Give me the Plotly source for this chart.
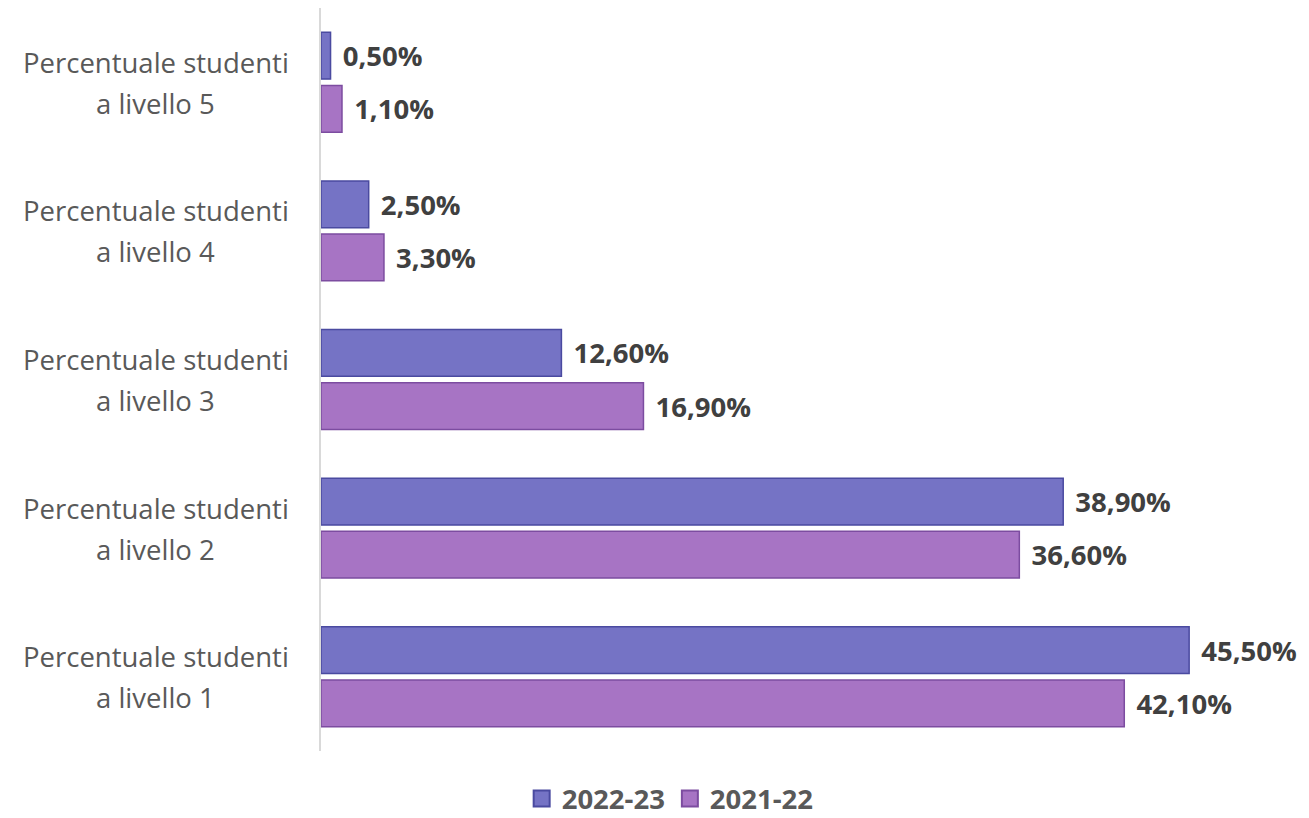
import plotly.graph_objects as go

categories = ["Percentuale studenti a livello 1", "Percentuale studenti a livello 2",
              "Percentuale studenti a livello 3", "Percentuale studenti a livello 4",
              "Percentuale studenti a livello 5"]
tick_line1 = ["Percentuale studenti"] * 5
tick_line2 = ["a livello 1", "a livello 2", "a livello 3", "a livello 4", "a livello 5"]
series_names = ["2022-23", "2021-22"]
values_2022_23 = [45.5, 38.9, 12.6, 2.5, 0.5]
values_2021_22 = [42.1, 36.6, 16.9, 3.3, 1.1]

colors = {"2022-23": ("#7573C5", "#4A4AA0"), "2021-22": ("#A774C4", "#7C4CA0")}

FONT = "Open Sans"
fig = go.Figure()
# Added first => drawn lower within each group
for name, vals in ((series_names[1], values_2021_22), (series_names[0], values_2022_23)):
    fill, edge = colors[name]
    fig.add_trace(go.Bar(
        y=categories, x=vals, name=name, orientation="h", showlegend=False,
        marker=dict(color=fill, line=dict(color=edge, width=1.5)),
        texttemplate="\u2009\u2009%{x:.2f}%", textposition="outside",
        textfont=dict(family=FONT, size=27.5, color="#404040", weight="bold"),
        cliponaxis=False,
    ))

# legend entries (larger square swatches)
for name in series_names:
    fill, edge = colors[name]
    fig.add_trace(go.Scatter(
        x=[None], y=[None], mode="markers", name=name,
        marker=dict(symbol="square", size=16, color=fill, line=dict(color=edge, width=2)),
    ))

for cat, l1, l2 in zip(categories, tick_line1, tick_line2):
    for txt, shift in ((l1, 20), (l2, -21)):
        fig.add_annotation(x=-0.173, xref="paper", y=cat, yref="y", text=txt,
                           yshift=shift, showarrow=False, xanchor="center",
                           font=dict(family=FONT, size=27.5, color="#595959"))

fig.update_layout(
    width=1301, height=810,
    margin=dict(l=313, r=34, t=0, b=67, autoexpand=False),
    plot_bgcolor="white", paper_bgcolor="white",
    barmode="group", bargap=0.285, bargroupgap=0.12,
    separators=",.",
    showlegend=True,
    legend=dict(orientation="h", x=0.366, xanchor="center", y=-0.064, yanchor="middle",
                itemwidth=30,
                font=dict(family=FONT, size=27.5, color="#595959", weight="bold")),
    xaxis=dict(range=[0, 50], showgrid=False, showticklabels=False, zeroline=False,
               showline=False),
    yaxis=dict(categoryorder="array", categoryarray=categories, showticklabels=False,
               showgrid=False, showline=True, linecolor="#D9D9D9", linewidth=2,
               ticks=""),
)
fig.write_html("out.html")
